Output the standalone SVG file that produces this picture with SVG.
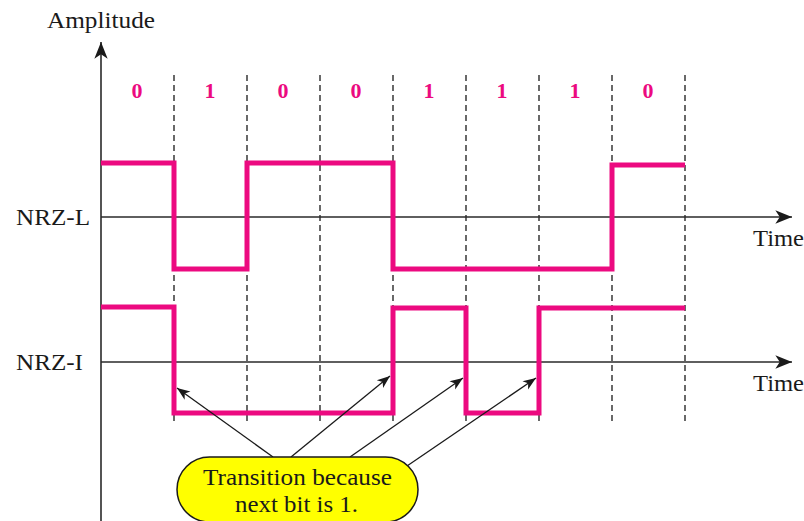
<svg xmlns="http://www.w3.org/2000/svg" width="804" height="521" viewBox="0 0 804 521">
<style>
.lbl{font-family:"Liberation Serif","Times New Roman",serif;font-size:23px;fill:#1a1a1a}
.bit{font-family:"Liberation Serif","Times New Roman",serif;font-size:22px;font-weight:bold;fill:#EC0A80;text-anchor:middle}
.axis{stroke:#2a2a2a;stroke-width:1.6;fill:none}
.dash{stroke:#2a2a2a;stroke-width:1.4;stroke-dasharray:6 4;fill:none}
.sig{stroke:#EC0A80;stroke-width:5;fill:none;stroke-linejoin:miter;stroke-linecap:butt}
.ptr{stroke:#1a1a1a;stroke-width:1.3;fill:none}
</style>
<defs>
<marker id="axh" markerUnits="userSpaceOnUse" markerWidth="20" markerHeight="20" viewBox="-16 -8 18 16" refX="0" refY="0" orient="auto">
<path d="M0,0 L-15,-6 L-11,0 L-15,6 Z" fill="#1a1a1a"/>
</marker>
<marker id="ph" markerUnits="userSpaceOnUse" markerWidth="16" markerHeight="16" viewBox="-14 -7 16 14" refX="0" refY="0" orient="auto">
<path d="M0,0 L-13,-5 L-9.5,0 L-13,5 Z" fill="#1a1a1a"/>
</marker>
</defs>

<g id="grid">
<path class="dash" d="M174,75V425 M247,75V425 M320,75V425 M393,75V425 M466,75V425 M539,75V425 M612,75V425 M685,75V425"/>
</g>

<g id="axes">
<line class="axis" x1="101" y1="521" x2="101" y2="42" marker-end="url(#axh)"/>
<line class="axis" x1="101" y1="217" x2="792" y2="217" marker-end="url(#axh)"/>
<line class="axis" x1="101" y1="362" x2="792" y2="362" marker-end="url(#axh)"/>
<text class="lbl" x="47" y="28" textLength="108" lengthAdjust="spacingAndGlyphs">Amplitude</text>
<text class="lbl" x="753" y="246" textLength="51" lengthAdjust="spacingAndGlyphs">Time</text>
<text class="lbl" x="753" y="391" textLength="51" lengthAdjust="spacingAndGlyphs">Time</text>
<text class="lbl" x="16" y="225" textLength="74" lengthAdjust="spacingAndGlyphs">NRZ-L</text>
<text class="lbl" x="16" y="370" textLength="67" lengthAdjust="spacingAndGlyphs">NRZ-I</text>
</g>

<g id="bits">
<text class="bit" x="137" y="98">0</text>
<text class="bit" x="210" y="98">1</text>
<text class="bit" x="283" y="98">0</text>
<text class="bit" x="356" y="98">0</text>
<text class="bit" x="429" y="98">1</text>
<text class="bit" x="502" y="98">1</text>
<text class="bit" x="575" y="98">1</text>
<text class="bit" x="648" y="98">0</text>
</g>

<g id="nrz-l">
<path class="sig" d="M101,163 H174 V269 H247 V163 H393 V269 H612 V165 H685"/>
</g>

<g id="nrz-i">
<path class="sig" d="M101,307 H174 V413 H393 V308 H466 V413 H539 V308 H685"/>
</g>

<g id="connectors">
<line class="ptr" x1="273" y1="457" x2="177" y2="388" marker-end="url(#ph)"/>
<line class="ptr" x1="291" y1="457" x2="390" y2="376" marker-end="url(#ph)"/>
<line class="ptr" x1="350" y1="457" x2="463" y2="378" marker-end="url(#ph)"/>
<line class="ptr" x1="407" y1="466" x2="536" y2="378" marker-end="url(#ph)"/>
</g>

<g id="callout">
<rect x="177" y="457" width="241" height="65" rx="32.5" ry="32.5" fill="#FFFF00" stroke="#1a1a1a" stroke-width="1.5"/>
<text class="lbl" x="203" y="485" textLength="189" lengthAdjust="spacingAndGlyphs">Transition because</text>
<text class="lbl" x="235" y="512" textLength="123" lengthAdjust="spacingAndGlyphs">next bit is 1.</text>
</g>
</svg>
